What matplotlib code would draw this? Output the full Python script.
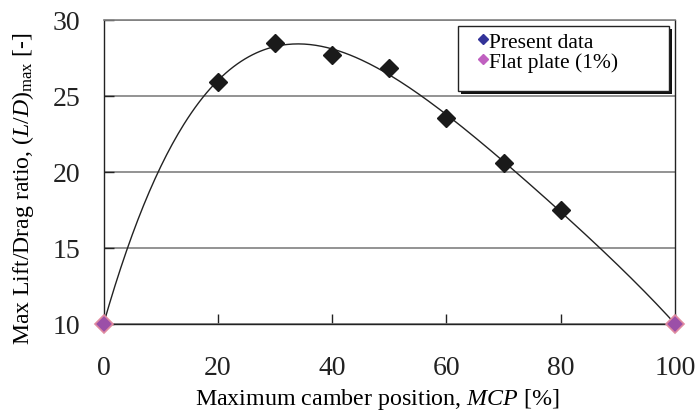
import numpy as np
import matplotlib
matplotlib.use("Agg")
import matplotlib.pyplot as plt
from matplotlib.lines import Line2D
from matplotlib.patches import Rectangle

plt.rcParams["font.family"] = ["Liberation Serif", "DejaVu Serif"]
plt.rcParams["mathtext.fontset"] = "custom"
plt.rcParams["mathtext.rm"] = "Liberation Serif"
plt.rcParams["mathtext.it"] = "Liberation Serif:italic"

# data
mcp_present = [20, 30, 40, 50, 60, 70, 80]
ld_present = [25.94, 28.47, 27.70, 26.86, 23.58, 20.57, 17.50]
mcp_flat = [0, 100]
ld_flat = [10.0, 10.0]

x_ticks = [0, 20, 40, 60, 80, 100]
y_ticks = [10, 15, 20, 25, 30]

# 4th order polynomial trendline through all points (as in the spreadsheet)
all_x = np.array(mcp_flat[:1] + mcp_present + mcp_flat[1:], dtype=float)
all_y = np.array(ld_flat[:1] + ld_present + ld_flat[1:], dtype=float)
coef = np.polyfit(all_x, all_y, 4)
xs = np.linspace(0, 100, 300)

W, H = 697, 414
fig = plt.figure(figsize=(W / 100, H / 100), dpi=100)
ax = fig.add_axes([103.5 / W, 89 / H, 571.5 / W, 304 / H])

ax.plot(xs, np.polyval(coef, xs), color="#222222", linewidth=1.0, zorder=2)
ax.plot(mcp_present, ld_present, linestyle="none", marker="D", markersize=9,
        color="#1a1a1a", zorder=3)
ax.plot(mcp_flat, ld_flat, linestyle="none", marker="D", markersize=9,
        markerfacecolor="#9b4fa8", markeredgecolor="#e08aa0",
        markeredgewidth=1.2, zorder=4, clip_on=False)

ax.set_xlim(0, 100)
ax.set_ylim(10, 30)
ax.set_xticks(x_ticks)
ax.set_yticks(y_ticks)
ax.yaxis.grid(True, color="#808080", linewidth=1.2)
ax.set_axisbelow(True)
ax.tick_params(direction="in", length=7, width=1, labelsize=20,
               colors="#222222")
ax.tick_params(axis="x", pad=22)
ax.tick_params(axis="y", pad=16.5)
for side in ["left", "bottom", "right"]:
    ax.spines[side].set_color("#222222")
    ax.spines[side].set_linewidth(1.0)
ax.spines["top"].set_color("#808080")
ax.spines["top"].set_linewidth(1.2)

ax.set_xlabel("Maximum camber position, $\\it{MCP}$ [%]", fontsize=17.3,
              labelpad=5)
ax.xaxis.label.set_x((377.5 - 103.5) / 571.5)
ax.set_ylabel("Max Lift/Drag ratio, ($\\it{L/D}$)$_{\\rm max}$ [-]",
              fontsize=17.1)
ax.yaxis.set_label_coords((36 - 103.5) / 571.5, (325 - 188.5) / 304)

# legend frame with shadow (drawn by hand, like the spreadsheet box)
fx0, fx1 = (458 - 103.5) / 571.5, (669 - 103.5) / 571.5
fy0, fy1 = (325 - 92) / 304, (325 - 27) / 304
sdx, sdy = 3 / 571.5, 3 / 304
ax.add_patch(Rectangle((fx0 + sdx, fy0 - sdy), fx1 - fx0, fy1 - fy0,
                       transform=ax.transAxes, facecolor="#111111",
                       edgecolor="none", zorder=5))
ax.add_patch(Rectangle((fx0, fy0), fx1 - fx0, fy1 - fy0,
                       transform=ax.transAxes, facecolor="white",
                       edgecolor="#222222", linewidth=1.0, zorder=6))

handles = [
    Line2D([], [], linestyle="none", marker="D", markersize=5, color="#333399"),
    Line2D([], [], linestyle="none", marker="D", markersize=5, color="#c060c0"),
]
leg = ax.legend(handles, ["Present data", "Flat plate (1%)"],
                loc="upper left",
                bbox_to_anchor=((478 - 103.5) / 571.5, (325 - 32.5) / 304),
                fontsize=15.5, frameon=False,
                handlelength=0.5, handletextpad=0.0, borderpad=0,
                labelspacing=0.0, borderaxespad=0)
leg.set_zorder(7)

fig.savefig("out.png", dpi=100)
